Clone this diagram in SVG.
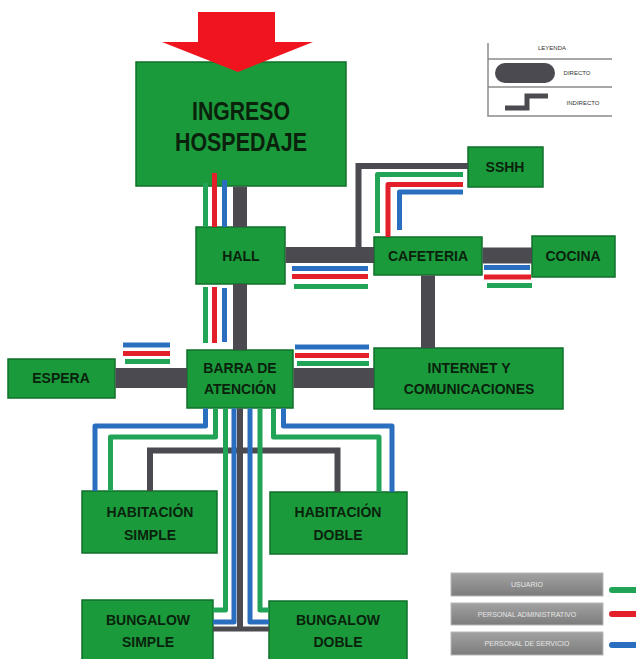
<svg xmlns="http://www.w3.org/2000/svg" width="636" height="659" viewBox="0 0 636 659">
<style>
.node{fill:#1b9a3c;stroke:#10702a;stroke-width:1.5}
.lbl{font-family:"Liberation Sans",Arial,sans-serif;font-weight:bold;font-size:14px;fill:#0a220c;text-anchor:middle}
.big{font-size:25px}
.gr{fill:none;stroke:#4b4a50}
.g{fill:none;stroke:#22a457;stroke-width:5;stroke-linejoin:round}
.r{fill:none;stroke:#e3202a;stroke-width:5;stroke-linejoin:round}
.b{fill:none;stroke:#2a6fbf;stroke-width:5;stroke-linejoin:round}
.leg{font-family:"Liberation Sans",Arial,sans-serif;font-size:6px;fill:#333;text-anchor:middle}
.leg2{font-family:"Liberation Sans",Arial,sans-serif;font-size:7px;fill:#e6e6e6;text-anchor:middle}
.lbox{fill:url(#lg);stroke:#b8b8b8;stroke-width:1}
</style>
<defs>
<linearGradient id="lg" x1="0" y1="0" x2="0" y2="1">
<stop offset="0" stop-color="#a2a2a2"/>
<stop offset="1" stop-color="#7c7c7c"/>
</linearGradient>
</defs>
<rect width="636" height="659" fill="#ffffff"/>

<g id="ingreso">
<rect class="node" x="136" y="62" width="210" height="124"/>
<text class="lbl big" x="241" y="120" textLength="98" lengthAdjust="spacingAndGlyphs">INGRESO</text>
<text class="lbl big" x="241" y="151" textLength="132" lengthAdjust="spacingAndGlyphs">HOSPEDAJE</text>
</g>
<g id="hall">
<rect class="node" x="196" y="227" width="89" height="57"/>
<text class="lbl" x="241" y="261">HALL</text>
</g>
<g id="cafeteria">
<rect class="node" x="374" y="237" width="108" height="38"/>
<text class="lbl" x="428" y="261">CAFETERIA</text>
</g>
<g id="cocina">
<rect class="node" x="532" y="236" width="83" height="41"/>
<text class="lbl" x="573" y="261">COCINA</text>
</g>
<g id="sshh">
<rect class="node" x="468" y="147" width="75" height="40"/>
<text class="lbl" x="505" y="172">SSHH</text>
</g>
<g id="espera">
<rect class="node" x="8" y="359" width="107" height="39"/>
<text class="lbl" x="61" y="383">ESPERA</text>
</g>
<g id="barra">
<rect class="node" x="187" y="350" width="106" height="58"/>
<text class="lbl" x="240" y="373">BARRA DE</text>
<text class="lbl" x="240" y="394">ATENCIÓN</text>
</g>
<g id="internet">
<rect class="node" x="374" y="348" width="189" height="61"/>
<text class="lbl" x="469" y="373">INTERNET Y</text>
<text class="lbl" x="469" y="394">COMUNICACIONES</text>
</g>
<g id="hab-simple">
<rect class="node" x="82" y="491" width="135" height="62"/>
<text class="lbl" x="150" y="517">HABITACIÓN</text>
<text class="lbl" x="150" y="540">SIMPLE</text>
</g>
<g id="hab-doble">
<rect class="node" x="270" y="492" width="137" height="62"/>
<text class="lbl" x="338" y="517">HABITACIÓN</text>
<text class="lbl" x="338" y="540">DOBLE</text>
</g>
<g id="bung-simple">
<rect class="node" x="82" y="600" width="131" height="62"/>
<text class="lbl" x="148" y="625">BUNGALOW</text>
<text class="lbl" x="148" y="647">SIMPLE</text>
</g>
<g id="bung-doble">
<rect class="node" x="269" y="601" width="138" height="62"/>
<text class="lbl" x="338" y="625">BUNGALOW</text>
<text class="lbl" x="338" y="647">DOBLE</text>
</g>

<g id="connectors">
<!-- gray direct connections -->
<path class="gr" stroke-width="14" d="M240,186.5 V227"/>
<path class="gr" stroke-width="14" d="M240,284 V350"/>
<path class="gr" stroke-width="16" d="M285.5,255 H374"/>
<path class="gr" stroke-width="16" d="M482.5,255.5 H532"/>
<path class="gr" stroke-width="6" d="M358.5,248 V166 H468"/>
<path class="gr" stroke-width="14" d="M428,275.5 V348"/>
<path class="gr" stroke-width="20" d="M115.5,378 H187"/>
<path class="gr" stroke-width="20" d="M293.5,378 H374"/>
<path class="gr" stroke-width="6" d="M150,491 V450.5 H337.5 V492"/>
<path class="gr" stroke-width="6" d="M240,408.5 V629"/>
<path class="gr" stroke-width="5" d="M213,629 H269"/>

<!-- INGRESO to HALL -->
<path class="g" d="M205.5,183 V227"/>
<path class="r" d="M214.5,173 V227"/>
<path class="b" d="M224.5,180 V227"/>
<!-- HALL to BARRA -->
<path class="g" d="M205.5,287 V343"/>
<path class="r" d="M214.5,287 V343"/>
<path class="b" d="M224.5,288 V342"/>
<!-- HALL to CAFETERIA -->
<path class="b" d="M292,268.5 H368"/>
<path class="r" d="M292,276.5 H368"/>
<path class="g" d="M294,286.5 H368"/>
<!-- CAFETERIA to COCINA -->
<path class="b" d="M484,267.5 H530"/>
<path class="r" d="M484,277 H531"/>
<path class="g" d="M487,285.5 H532"/>
<!-- CAFETERIA to SSHH -->
<path class="g" d="M377.5,233 V174.5 H463"/>
<path class="r" stroke-width="6" d="M388,237 V184.5 H463"/>
<path class="b" d="M399.5,230 V192 H463"/>
<!-- ESPERA to BARRA -->
<path class="b" d="M123,345 H170"/>
<path class="r" d="M123,353.5 H170"/>
<path class="g" d="M125,361.5 H170"/>
<!-- BARRA to INTERNET -->
<path class="b" d="M295,347 H369"/>
<path class="r" d="M295,355.5 H369"/>
<path class="g" d="M297,363.5 H369"/>
<!-- BARRA to HABITACIONES -->
<path class="b" d="M205.5,408.5 V426 H95 V491"/>
<path class="g" d="M215.5,408.5 V437 H110.5 V491"/>
<path class="g" d="M273.5,408.5 V437 H379 V492"/>
<path class="b" d="M283.5,408.5 V426 H392 V492"/>
<!-- BARRA to BUNGALOWS -->
<path class="g" d="M225.5,408.5 V610 H213"/>
<path class="b" stroke-width="4" d="M234,408.5 V622 H213"/>
<path class="b" d="M250,408.5 V622 H269"/>
<path class="g" d="M260,408.5 V610 H269"/>
</g>

<g id="arrow">
<polygon points="198,12 275,12 275,42 313,42 238,72 162,42 198,42" fill="#f0141e"/>
</g>

<g id="legend-top">
<path d="M488,43 V116 H612 M488,59 H612 M488,87 H612" fill="none" stroke="#8a8a8a" stroke-width="1.5"/>
<text class="leg" x="552" y="50">LEYENDA</text>
<rect x="495" y="63" width="60" height="20" rx="10" fill="#4b4a50"/>
<text class="leg" x="577" y="75">DIRECTO</text>
<path d="M505,108 H527 V96 H548" fill="none" stroke="#4b4a50" stroke-width="5"/>
<text class="leg" x="583" y="105">INDIRECTO</text>
</g>

<g id="legend-bottom">
<rect class="lbox" x="451" y="573" width="152" height="23"/>
<text class="leg2" x="527" y="587">USUARIO</text>
<rect class="lbox" x="451" y="603" width="152" height="22"/>
<text class="leg2" x="527" y="617">PERSONAL ADMINISTRATIVO</text>
<rect class="lbox" x="451" y="632" width="152" height="23"/>
<text class="leg2" x="527" y="646">PERSONAL DE SERVICIO</text>
<path d="M612,590 H636" stroke="#22a457" stroke-width="6" stroke-linecap="round"/>
<path d="M612,614 H636" stroke="#e3202a" stroke-width="6" stroke-linecap="round"/>
<path d="M612,645 H636" stroke="#2a6fbf" stroke-width="6" stroke-linecap="round"/>
</g>
</svg>
